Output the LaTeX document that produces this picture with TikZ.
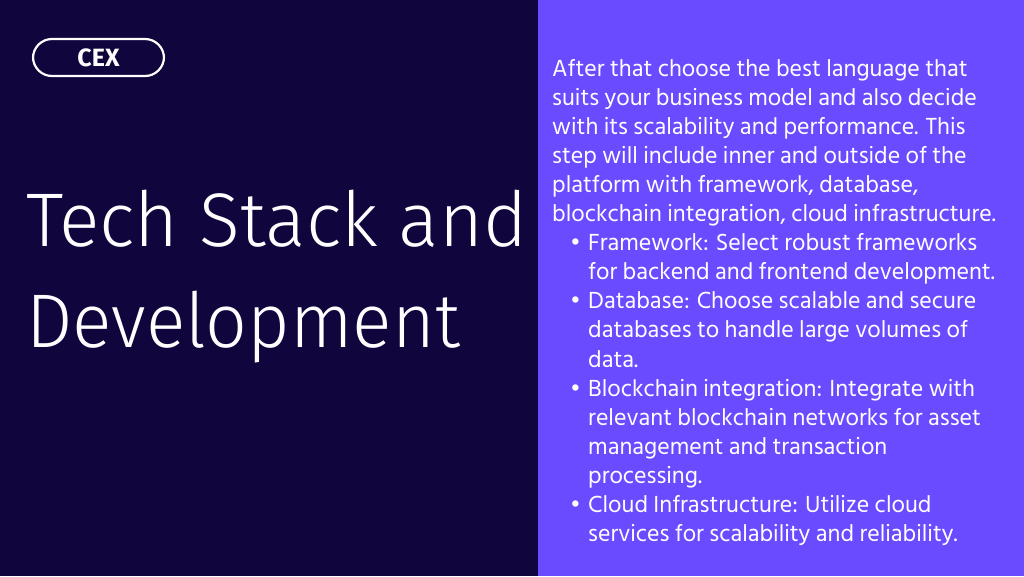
\documentclass[tikz,border=0pt]{standalone}
\usepackage{fontspec}
\setmainfont{Fira Sans}
\newfontfamily\bodyfont{Hind Siliguri}
\newfontfamily\titlefont{Fira Sans}
\newfontfamily\titlelight{Fira Sans}[UprightFont=* Light]
\definecolor{navy}{HTML}{10053D}
\definecolor{violet}{HTML}{6A4BFF}
\newcommand\bul{\hspace*{18pt}\makebox[18pt][l]{•}}
\newcommand\ind{\hspace*{36pt}}
\begin{document}
\begin{tikzpicture}[x=1pt,y=-1pt,
  bodytext/.style={anchor=base west,inner sep=0pt,text=white,font=\bodyfont\fontsize{23.9}{29}\selectfont},
  titletext/.style={anchor=base west,inner sep=0pt,text=white,font=\titlelight\fontsize{76}{100}\selectfont},
  pill/.style={draw=white,line width=2.2pt,rounded corners=19pt,minimum width=131pt,minimum height=37pt,inner sep=0pt,text=white,font=\titlefont\bfseries\fontsize{25}{27}\selectfont}]
\useasboundingbox (0,0) rectangle (1024,576);
\fill[navy] (0,0) rectangle (538,576);
\fill[violet] (538,0) rectangle (1024,576);
\node[pill] (cex) at (98.5,57.5) {CEX};
\node[titletext] (title1) at (26,246) {\scalebox{0.99}[1]{Tech Stack and}};
\node[titletext] (title2) at (26,347) {\scalebox{0.965}[1]{Development}};
\foreach \txt [count=\i from 0] in {
  {After that choose the best language that},
  {suits your business model and also decide},
  {with its scalability and performance. This},
  {step will include inner and outside of the},
  {platform with framework, database,},
  {blockchain integration, cloud infrastructure.},
  {\bul Framework: Select robust frameworks},
  {\ind for backend and frontend development.},
  {\bul Database: Choose scalable and secure},
  {\ind databases to handle large volumes of},
  {\ind data.},
  {\bul Blockchain integration: Integrate with},
  {\ind relevant blockchain networks for asset},
  {\ind management and transaction},
  {\ind processing.},
  {\bul Cloud Infrastructure: Utilize cloud},
  {\ind services for scalability and reliability.}}
  {\node[bodytext] (line\i) at (552,{76+29.1*\i}) {\txt};}
\end{tikzpicture}
\end{document}
